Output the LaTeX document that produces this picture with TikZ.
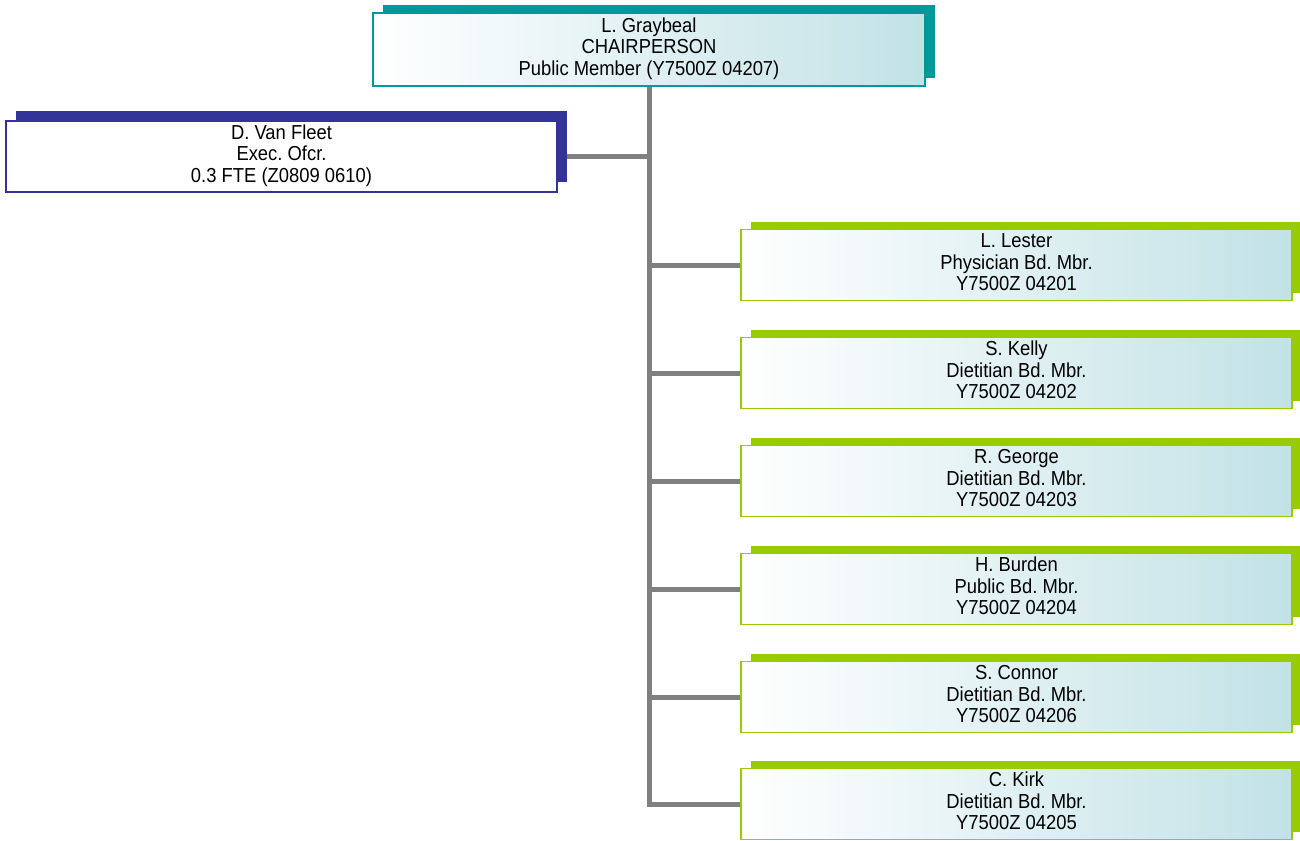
\documentclass[tikz,border=0pt]{standalone}
\usepackage{fontspec}
\setmainfont{Liberation Sans}
\usepackage{graphicx}
\usetikzlibrary{shadows,backgrounds}
\frenchspacing
\definecolor{tealc}{HTML}{009999}
\definecolor{navyc}{HTML}{333399}
\definecolor{greenc}{HTML}{99CC00}
\definecolor{connc}{HTML}{808080}
\definecolor{shadec}{HTML}{C2E2E6}
\newcommand\vlines[1]{\raisebox{-1pt}{\scalebox{1}[1.1]{\begin{tabular}{@{}c@{}}#1\end{tabular}}}}
\tikzset{
  box/.style={rectangle, align=center, inner sep=0pt, line width=1.6pt,
    font=\fontsize{18.4}{19.5}\selectfont, text=black},
  chair/.style={box, draw=tealc, left color=white, right color=shadec,
    minimum width=552pt, minimum height=73pt,
    general shadow={shadow xshift=10pt, shadow yshift=8pt, fill=tealc}},
  exec/.style={box, draw=navyc, fill=white, line width=1.2pt,
    minimum width=551pt, minimum height=71pt,
    general shadow={shadow xshift=10pt, shadow yshift=10pt, fill=navyc}},
  member/.style={box, draw=greenc, left color=white, right color=shadec,
    minimum width=551pt, minimum height=71pt,
    general shadow={shadow xshift=10pt, shadow yshift=8pt, fill=greenc}},
  conn/.style={draw=connc, line width=5pt}
}
\begin{document}
\begin{tikzpicture}[x=1pt,y=-1pt]
\useasboundingbox (0,0) rectangle (1300,840);
\node[chair] (chair) at (649,49.5) {\vlines{L. Graybeal\\CHAIRPERSON\\Public Member (Y7500Z 04207)}};
\node[exec] (exec) at (281.5,156.5) {\vlines{D. Van Fleet\\Exec. Ofcr.\\0.3 FTE (Z0809 0610)}};
\node[member] (m1) at (1016.5,265) {\vlines{L. Lester\\Physician Bd. Mbr.\\Y7500Z 04201}};
\node[member] (m2) at (1016.5,373) {\vlines{S. Kelly\\Dietitian Bd. Mbr.\\Y7500Z 04202}};
\node[member] (m3) at (1016.5,481) {\vlines{R. George\\Dietitian Bd. Mbr.\\Y7500Z 04203}};
\node[member] (m4) at (1016.5,589) {\vlines{H. Burden\\Public Bd. Mbr.\\Y7500Z 04204}};
\node[member] (m5) at (1016.5,697) {\vlines{S. Connor\\Dietitian Bd. Mbr.\\Y7500Z 04206}};
\node[member] (m6) at (1016.5,804) {\vlines{C. Kirk\\Dietitian Bd. Mbr.\\Y7500Z 04205}};
\begin{pgfonlayer}{background}
\draw[conn] (chair.south) -- (chair.south |- m6.west) -- (m6.west);
\draw[conn] (exec.east) -- (exec.east -| chair.south);
\foreach \m in {m1,m2,m3,m4,m5}{
  \draw[conn] (\m.west -| chair.south) -- (\m.west);
}
\end{pgfonlayer}
\end{tikzpicture}
\end{document}
